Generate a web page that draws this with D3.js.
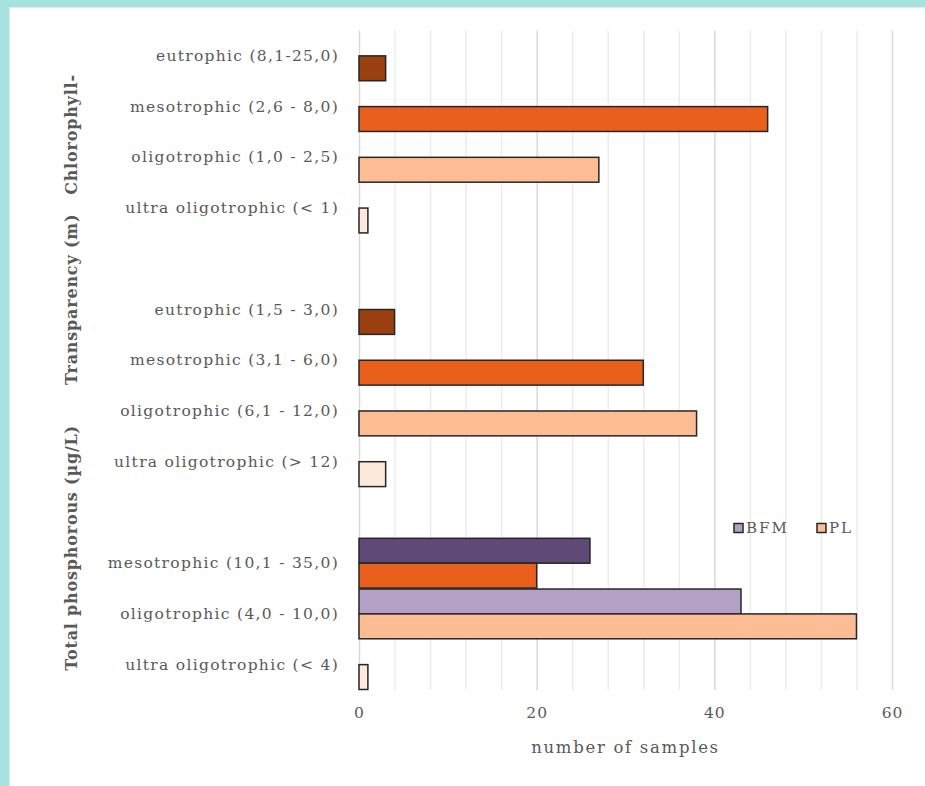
<!DOCTYPE html>
<html>
<head>
<meta charset="utf-8">
<script src="https://cdn.jsdelivr.net/npm/d3@7"></script>
<style>
  html, body { margin: 0; padding: 0; background: #a6e3df; }
  svg { display: block; }
</style>
</head>
<body>
<svg id="chart" width="925" height="786"></svg>
<script>
// Trophic-state class labels, top to bottom; empty strings are spacer rows between indicator groups
const categories = [
  "eutrophic (8,1-25,0)", "mesotrophic (2,6 - 8,0)", "oligotrophic (1,0 - 2,5)", "ultra oligotrophic (< 1)", "",
  "eutrophic (1,5 - 3,0)", "mesotrophic (3,1 - 6,0)", "oligotrophic (6,1 - 12,0)", "ultra oligotrophic (> 12)", "",
  "mesotrophic (10,1 - 35,0)", "oligotrophic (4,0 - 10,0)", "ultra oligotrophic (< 4)"
];
// Trophic level of each row (drives the bar colour)
const levels = [
  "eu", "meso", "oligo", "ultra", null,
  "eu", "meso", "oligo", "ultra", null,
  "meso", "oligo", "ultra"
];
// Number of samples per class
const bfmValues = [null, null, null, null, null, null, null, null, null, null, 26, 43, 0];
const plValues  = [3, 46, 27, 1, null, 4, 32, 38, 3, null, 20, 56, 1];

// Indicator groups and the row position (in row units) where each rotated label is centred
const groups = ["Chlorophyll-", "Transparency (m)", "Total phosphorous (µg/L)"];
const groupCenters = [1.55, 4.8, 9.7];

const seriesNames = ["BFM", "PL"];
const xTicks = [0, 20, 40, 60];

const colors = {
  BFM: { meso: "#5f4a77", oligo: "#b3a0c4", legend: "#b3a0c4" },
  PL:  { eu: "#9a3f10", meso: "#e8601c", oligo: "#fdbc94", ultra: "#fde8dc", legend: "#fdbc94" }
};

const svg = d3.select("#chart");

// white card over the teal frame
svg.append("rect").attr("x", 9).attr("y", 7).attr("width", 916).attr("height", 779).attr("fill", "#ffffff");
svg.append("line").attr("x1", 9).attr("x2", 925).attr("y1", 7.5).attr("y2", 7.5).attr("stroke", "#e4ecec");
svg.append("line").attr("x1", 9.5).attr("x2", 9.5).attr("y1", 7).attr("y2", 786).attr("stroke", "#e4ecec");

const plot = { left: 359, right: 892, top: 30.5, bottom: 690 };
const rowIds = categories.map((c, i) => i);

const x = d3.scaleLinear().domain([0, 60]).range([plot.left, plot.right]);
const y = d3.scaleBand().domain(rowIds).range([plot.top, plot.bottom]).padding(0);
const ySub = d3.scaleBand().domain(seriesNames).range([0, y.bandwidth()]).paddingOuter(0.02).paddingInner(0);
const rowPos = d3.scaleLinear().domain([0, categories.length - 1])
  .range([y(0) + y.bandwidth() / 2, y(categories.length - 1) + y.bandwidth() / 2]);

// vertical gridlines every 4 samples
const grid = d3.range(0, 61, 4);
svg.append("g").selectAll("line").data(grid).join("line")
  .attr("x1", d => x(d) + 0.5).attr("x2", d => x(d) + 0.5)
  .attr("y1", plot.top).attr("y2", plot.bottom)
  .attr("stroke", d => d % 20 === 0 ? "#d9d9d9" : "#ececec")
  .attr("stroke-width", 1.5);

// bars
const barData = [];
rowIds.forEach(i => {
  [["BFM", bfmValues[i]], ["PL", plValues[i]]].forEach(([s, v]) => {
    if (v !== null && v > 0) barData.push({ row: i, series: s, value: v, level: levels[i] });
  });
});
svg.append("g").selectAll("rect").data(barData).join("rect")
  .attr("x", x(0))
  .attr("y", d => y(d.row) + ySub(d.series))
  .attr("width", d => x(d.value) - x(0))
  .attr("height", ySub.bandwidth())
  .attr("fill", d => colors[d.series][d.level])
  .attr("stroke", "#262626")
  .attr("stroke-width", 1.5);

// category labels
const labelFont = "'DejaVu Serif', serif";
svg.append("g").selectAll("text").data(rowIds.filter(i => categories[i] !== "")).join("text")
  .attr("x", 339)
  .attr("y", i => y(i) + y.bandwidth() / 2)
  .attr("text-anchor", "end")
  .attr("dominant-baseline", "central")
  .attr("font-family", labelFont)
  .attr("font-size", 15.5)
  .attr("letter-spacing", 1.3)
  .attr("fill", "#595959")
  .text(i => categories[i]);

// rotated group labels
svg.append("g").selectAll("text").data(groups).join("text")
  .attr("transform", (d, i) => `translate(71,${rowPos(groupCenters[i])}) rotate(-90)`)
  .attr("text-anchor", "middle")
  .attr("dominant-baseline", "central")
  .attr("font-family", labelFont)
  .attr("font-weight", "bold")
  .attr("font-size", 16)
  .attr("letter-spacing", 0.8)
  .attr("fill", "#595959")
  .text(d => d);

// x axis tick labels
const xAxis = d3.axisBottom(x).tickValues(xTicks).tickSize(0).tickPadding(0);
const gx = svg.append("g").attr("transform", `translate(0,${plot.bottom})`).call(xAxis);
gx.select(".domain").remove();
gx.selectAll("text")
  .attr("y", 23)
  .attr("dy", "0.35em")
  .attr("font-family", labelFont)
  .attr("font-size", 15.5)
  .attr("letter-spacing", 1)
  .attr("fill", "#595959");

// axis title
svg.append("text")
  .attr("x", (plot.left + plot.right) / 2)
  .attr("y", 747)
  .attr("text-anchor", "middle")
  .attr("dominant-baseline", "central")
  .attr("font-family", labelFont)
  .attr("font-size", 16.5)
  .attr("letter-spacing", 1.7)
  .attr("fill", "#595959")
  .text("number of samples");

// legend
const legend = svg.append("g").attr("transform", "translate(734,528)");
const legendX = [0, 83];
seriesNames.forEach((s, i) => {
  const g = legend.append("g").attr("transform", `translate(${legendX[i]},0)`);
  g.append("rect").attr("x", 0).attr("y", -4.5).attr("width", 9).attr("height", 9)
    .attr("fill", colors[s].legend).attr("stroke", "#262626").attr("stroke-width", 1.5);
  g.append("text").attr("x", 12).attr("y", 0).attr("dominant-baseline", "central")
    .attr("font-family", labelFont).attr("font-size", 15)
    .attr("letter-spacing", 2)
    .attr("fill", "#595959").text(s);
});
</script>
</body>
</html>
